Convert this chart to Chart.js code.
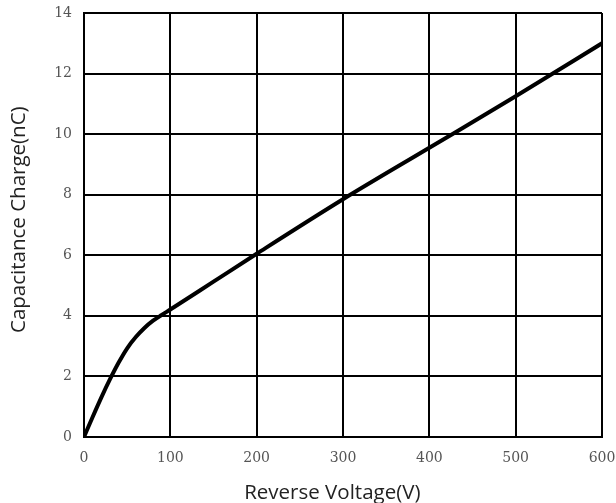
<!DOCTYPE html>
<html>
<head>
<meta charset="utf-8">
<script src="https://cdn.jsdelivr.net/npm/chart.js@4"></script>
<style>
html,body{margin:0;padding:0;background:#fff;}
#wrap{width:616px;height:503px;position:relative;}
</style>
</head>
<body>
<div id="wrap"><canvas id="c" width="616" height="503"></canvas></div>
<script>
const voltages = [0, 10, 20, 30, 40, 50, 60, 70, 80, 90, 100, 150, 200, 300, 400, 500, 600];
const charges  = [0, 0.66, 1.3, 1.9, 2.45, 2.93, 3.3, 3.6, 3.84, 4.03, 4.21, 5.13, 6.05, 7.85, 9.55, 11.25, 13.0];
const xTicks = [0, 100, 200, 300, 400, 500, 600];
const yTicks = [0, 2, 4, 6, 8, 10, 12, 14];
const xTitle = 'Reverse Voltage(V)';
const yTitle = 'Capacitance Charge(nC)';

const points = voltages.map((v, i) => ({x: v, y: charges[i]}));
const tickFont = {family: 'DejaVu Serif', size: 14};
const titleFont = {family: 'Open Sans', size: 20.5, lineHeight: 1};
const noPad = s => { s.paddingLeft = 0; s.paddingRight = 0; s.paddingTop = 0; s.paddingBottom = 0; };
const NB = '\u00A0';

new Chart(document.getElementById('c'), {
  type: 'line',
  data: {
    datasets: [{
      data: points,
      borderColor: '#000',
      borderWidth: 4,
      pointRadius: 0,
      cubicInterpolationMode: 'monotone',
      fill: false
    }]
  },
  options: {
    responsive: false,
    animation: false,
    devicePixelRatio: 1,
    layout: {padding: {top: 13, right: 14, left: 0, bottom: 0}},
    plugins: {legend: {display: false}, tooltip: {enabled: false}},
    scales: {
      x: {
        type: 'linear',
        min: 0, max: 600,
        afterBuildTicks: s => { s.ticks = xTicks.map(v => ({value: v})); },
        afterFit: s => { s.height = 66; noPad(s); },
        grid: {color: '#000', lineWidth: 2, drawTicks: false},
        border: {color: '#000', width: 2},
        ticks: {font: tickFont, color: '#555', padding: 13, maxRotation: 0},
        title: {display: true, text: xTitle + NB.repeat(4), font: titleFont, color: '#222', padding: {top: 0, bottom: 0}}
      },
      y: {
        type: 'linear',
        min: 0, max: 14,
        afterBuildTicks: s => { s.ticks = yTicks.map(v => ({value: v})); },
        afterFit: s => { s.width = 84; noPad(s); },
        grid: {color: '#000', lineWidth: 2, drawTicks: false},
        border: {color: '#000', width: 2},
        ticks: {font: tickFont, color: '#555', padding: 12},
        title: {display: true, text: NB.repeat(2) + yTitle, font: titleFont, color: '#222', padding: {top: 9, bottom: 0}}
      }
    }
  }
});
</script>
</body>
</html>
